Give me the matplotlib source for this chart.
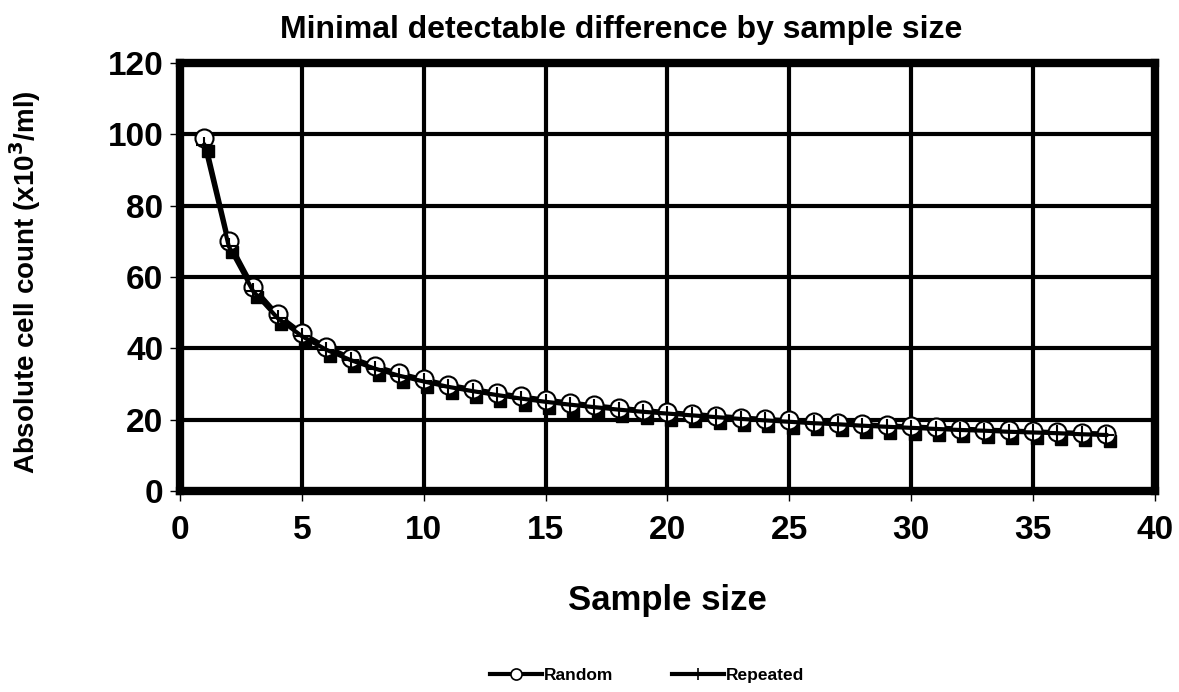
import matplotlib
matplotlib.use("Agg")
import matplotlib.pyplot as plt
import matplotlib.transforms as mtransforms
from matplotlib.lines import Line2D

plt.rcParams['font.family'] = ['Liberation Sans', 'DejaVu Sans']
plt.rcParams['font.weight'] = 'bold'

sample_size = list(range(1, 39))
random_vals = [99.0, 70.0, 57.2, 49.5, 44.3, 40.4, 37.4, 35.0, 33.0, 31.3,
               29.8, 28.6, 27.5, 26.5, 25.6, 24.8, 24.0, 23.3, 22.7, 22.1,
               21.6, 21.1, 20.6, 20.2, 19.8, 19.4, 19.1, 18.7, 18.4, 18.1,
               17.8, 17.5, 17.2, 17.0, 16.7, 16.5, 16.3, 16.1]
repeated_vals = [97.0, 68.6, 56.0, 48.5, 43.4, 39.6, 36.7, 34.3, 32.3, 30.7,
                 29.2, 28.0, 26.9, 25.9, 25.0, 24.2, 23.5, 22.8, 22.2, 21.7,
                 21.2, 20.7, 20.2, 19.8, 19.4, 19.0, 18.7, 18.3, 18.0, 17.7,
                 17.4, 17.1, 16.9, 16.6, 16.4, 16.2, 15.9, 15.7]

fig = plt.figure(figsize=(11.79, 6.92), dpi=100)
ax = fig.add_axes([0.1527, 0.2905, 0.8269, 0.6185])

ax.set_xlim(0, 40)
ax.set_ylim(0, 120)
ax.set_xticks(range(0, 41, 5))
ax.set_yticks(range(0, 121, 20))
ax.grid(True, color='black', linewidth=3.0)
ax.set_axisbelow(True)
for s in ax.spines.values():
    s.set_linewidth(6)
ax.tick_params(axis='both', direction='out', length=7, width=1, labelsize=24)
ax.tick_params(axis='y', pad=5)
ax.tick_params(axis='x', pad=10)
for lab in ax.get_xticklabels() + ax.get_yticklabels():
    lab.set_fontweight('bold')

# shadow squares under Repeated markers
shadow = mtransforms.offset_copy(ax.transData, fig=fig, x=3.5, y=-6, units='dots')
ax.plot(sample_size, repeated_vals, linestyle='none', marker='s', markersize=9,
        markerfacecolor='black', markeredgecolor='black', transform=shadow, zorder=3)

ax.plot(sample_size, random_vals, color='black', linewidth=3, marker='o',
        markersize=13, markerfacecolor='white', markeredgecolor='black',
        markeredgewidth=1.5, zorder=4, clip_on=False)
ax.plot(sample_size, repeated_vals, color='black', linewidth=3, marker='+',
        markersize=12, markeredgewidth=1.5, zorder=5, clip_on=False)

fig.text(0.527, 0.957, 'Minimal detectable difference by sample size', fontsize=23,
         fontweight='bold', ha='center', va='center')
ax.set_xlabel('Sample size', fontsize=25, fontweight='bold', labelpad=28)
fig.text(0.021, 0.592, 'Absolute cell count (x10$^\\mathbf{3}$/ml)', fontsize=20,
         fontweight='bold', rotation=90, ha='center', va='center')

handles = [Line2D([], [], color='black', linewidth=3, marker='o', markersize=8,
                  markerfacecolor='white', markeredgecolor='black', markeredgewidth=1.2),
           Line2D([], [], color='black', linewidth=3, marker='|', markersize=8,
                  markeredgewidth=1.2)]
fig.legend(handles, ['Random', 'Repeated'], loc='center', bbox_to_anchor=(0.549, 0.024),
           ncol=2, frameon=False, handlelength=3.0, handletextpad=0.1,
           columnspacing=3.4, prop={'weight': 'bold', 'size': 12.5})

fig.savefig('out.png', dpi=100)
